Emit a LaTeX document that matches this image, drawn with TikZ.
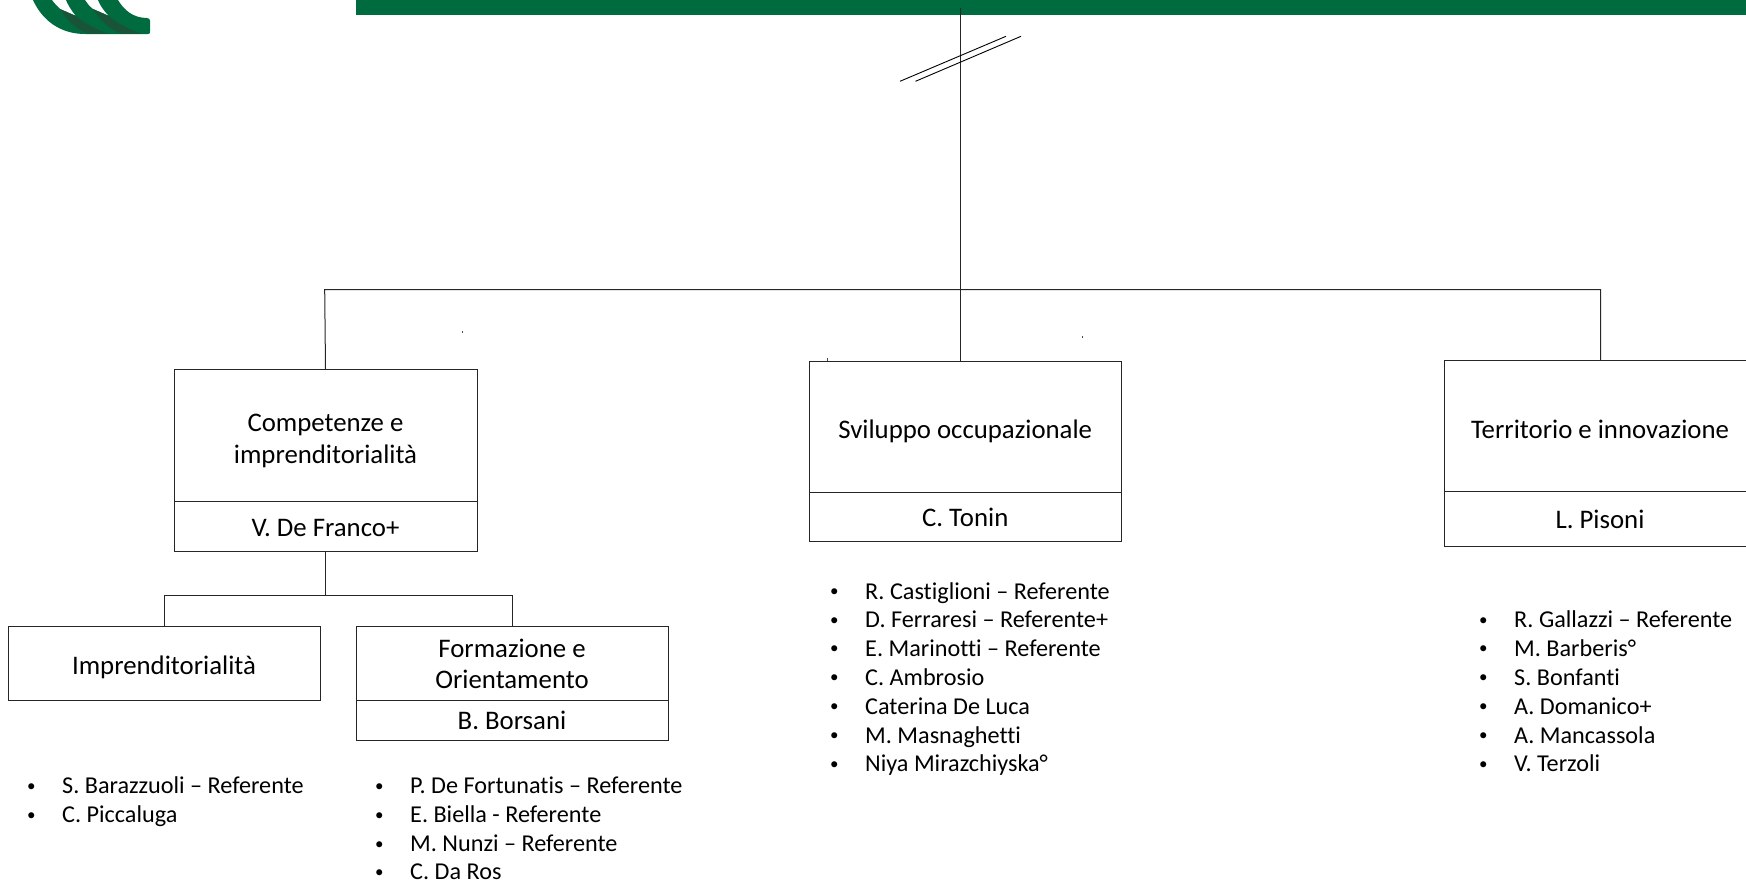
\documentclass[tikz,border=0pt]{standalone}
\usepackage{fontspec}
\setmainfont[Ligatures=CommonOff]{Carlito}
\definecolor{bargreen}{RGB}{0,107,63}
\definecolor{darkgreen}{RGB}{26,84,56}
\tikzset{
  x=1pt,y=-1pt,
  line/.style={draw=black!85,line width=1pt},
  cell/.style={draw=black!85,line width=0.9pt,inner sep=0pt,outer sep=0pt},
  celltext/.style={inner sep=0pt,align=center,font=\fontsize{26.8}{31.5}\selectfont},
  bul/.style={anchor=base west,inner sep=0pt,font=\fontsize{24.2}{28}\selectfont},
  bulmark/.style={anchor=base west,inner sep=0pt,font=\fontsize{17}{28}\selectfont},
}
\newcommand{\cellbox}[7]{% name, x0,y0,x1,y1,text, text shift
  \node[cell,minimum width=#4pt-#2pt,minimum height=#5pt-#3pt,anchor=north west] (#1) at (#2,#3) {};
  \node[celltext,yshift=-#7pt] (#1t) at (#1.center) {#6};
}
\newcommand{\blist}[4]{% name, bullet x, y, text
  \node[bulmark] (#1b) at (#2+1,#3+6) {•};
  \node[bul] (#1) at (#2+36,#3+8.5) {#4};
}
\begin{document}
\begin{tikzpicture}
\useasboundingbox (0,0) rectangle (1746,881);
\fill[bargreen] (356,0) rectangle (1746,15);
% logo
\fill[bargreen] (33,0) .. controls (42,20) and (60,34) .. (85,34) -- (148,34) .. controls (150,34) and (150,33) .. (150,31) -- (150,21) .. controls (150,19) and (149,18) .. (147,18) .. controls (133,18) and (124,10) .. (118,0) -- (98,0) .. controls (100,5) and (103,10) .. (109,16) -- (93,9) .. controls (89,6) and (87,3) .. (85,0) -- (66,0) .. controls (68,5) and (71,10) .. (76,16) -- (60,9) .. controls (57,6) and (54,3) .. (52,0) -- cycle;
\fill[darkgreen] (60,9) .. controls (66,18) and (73,28) .. (88,33.5) -- (108,33.5) .. controls (92,28) and (80,20) .. (76,16) -- cycle;
\fill[darkgreen] (93,9) .. controls (99,18) and (106,28) .. (121,33.5) -- (141,33.5) .. controls (125,28) and (113,20) .. (109,16) -- cycle;
% cells
\cellbox{a1}{174}{369}{477}{501}{Competenze e\\imprenditorialità}{6}
\cellbox{a2}{174}{501}{477}{551}{V. De Franco+}{2}
\cellbox{b1}{809.5}{361.3}{1121}{492}{Sviluppo occupazionale}{4.5}
\cellbox{b2}{809.5}{492}{1121}{541.7}{C. Tonin}{1}
\cellbox{c1}{1444}{360}{1756}{491}{Territorio e innovazione}{3.5}
\cellbox{c2}{1444}{491}{1756}{546.7}{L. Pisoni}{1}
\cellbox{d}{8}{626}{320}{700.7}{Imprenditorialità}{4}
\cellbox{e1}{356}{626}{668}{700}{Formazione e\\Orientamento}{1}
\cellbox{e2}{356}{700}{668}{740}{B. Borsani}{0}
% connectors
\coordinate (top) at (960.5,8);
\coordinate (busl) at (324.7,289.5);
\coordinate (busr) at (1600.5,289.5);
\coordinate (sl) at (325.5,595);
\coordinate (sll) at (164,595);
\coordinate (slr) at (512,595);
\draw[line] (top) -- (b1.north -| top);
\draw[line] (a1.north -| sl) -- (busl) -- (busr) -- (c1.north -| busr);
\draw[line] (a2.south) -- (sl);
\draw[line] (sll |- d.north) -- (sll) -- (slr) -- (slr |- e1.north);
% break marks
\coordinate (s1a) at (900,81.3); \coordinate (s1b) at (1006,36.3);
\coordinate (s2a) at (915.5,81.3); \coordinate (s2b) at (1021,36.3);
\draw[draw=black,line width=0.9pt] (s1a) -- (s1b);
\draw[draw=black,line width=0.9pt] (s2a) -- (s2b);
% specks
\fill[black!70] (462,331) rectangle (463,333);
\fill[black!70] (1082,336) rectangle (1083,338);
\fill[black!70] (826.5,358) rectangle (827.5,361);
% lists
\blist{l1}{26}{785}{S. Barazzuoli – Referente}
\blist{l2}{26}{814}{C. Piccaluga}
\blist{m1}{374}{785}{P. De Fortunatis – Referente}
\blist{m2}{374}{814}{E. Biella - Referente}
\blist{m3}{374}{843}{M. Nunzi – Referente}
\blist{m4}{374}{871}{C. Da Ros}
\blist{n1}{829}{590.5}{R. Castiglioni – Referente}
\blist{n2}{829}{619}{D. Ferraresi – Referente+}
\blist{n3}{829}{647.5}{E. Marinotti – Referente}
\blist{n4}{829}{676.5}{C. Ambrosio}
\blist{n5}{829}{705.5}{Caterina De Luca}
\blist{n6}{829}{734.5}{M. Masnaghetti}
\blist{n7}{829}{763}{Niya Mirazchiyska°}
\blist{o1}{1478}{619}{R. Gallazzi – Referente}
\blist{o2}{1478}{647.5}{M. Barberis°}
\blist{o3}{1478}{676.5}{S. Bonfanti}
\blist{o4}{1478}{705.5}{A. Domanico+}
\blist{o5}{1478}{734.5}{A. Mancassola}
\blist{o6}{1478}{763}{V. Terzoli}
\end{tikzpicture}
\end{document}
